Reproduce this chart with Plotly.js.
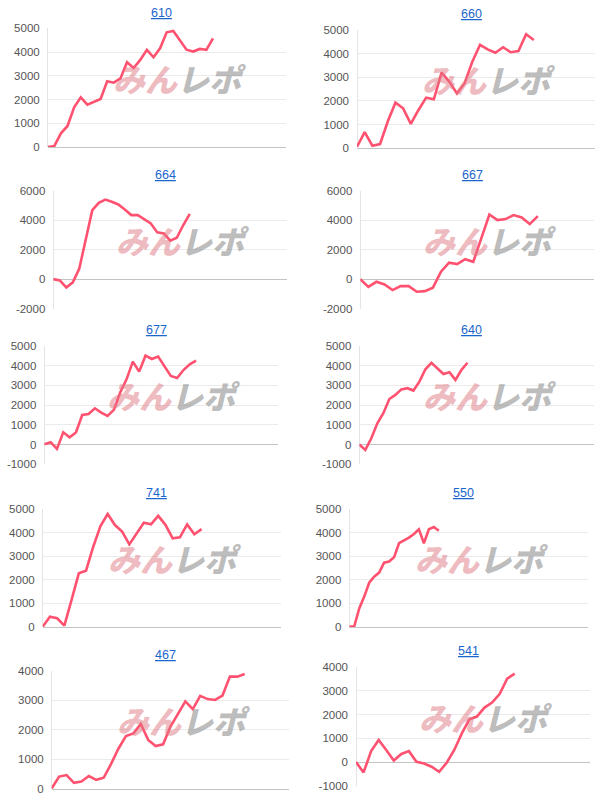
<!DOCTYPE html>
<html><head><meta charset="utf-8">
<script src="https://cdn.plot.ly/plotly-3.0.1.min.js"></script>
<style>html,body{margin:0;padding:0;background:#fff;}#chart{width:614px;height:800px;}</style>
</head><body><div id="chart"></div>
<script>
// ---- data ----
const titles = ['610','660','664','667','677','640','741','550','467','541'];
const s610 = [0,40,575,885,1670,2090,1780,1910,2020,2770,2710,2890,3570,3330,3670,4090,3780,4160,4830,4890,4480,4100,4020,4130,4090,4580];
const s660 = [70,680,110,180,1130,1930,1690,1030,1620,2140,2070,3200,2820,2320,2750,3660,4370,4180,4040,4270,4060,4110,4820,4580];
const s664 = [20,-70,-540,-200,740,2660,4680,5180,5400,5250,5070,4730,4350,4350,4060,3790,3180,3110,2620,2820,3680,4430];
const s667 = [20,-500,-160,-340,-720,-450,-450,-830,-790,-560,520,1130,1040,1370,1190,2770,4390,4010,4080,4350,4190,3740,4280];
const s677 = [20,120,-220,625,370,610,1500,1550,1840,1620,1450,1760,2640,3310,4210,3700,4510,4340,4460,3950,3480,3380,3780,4070,4260];
const s640 = [0,-270,320,1080,1590,2310,2520,2800,2860,2740,3190,3820,4150,3870,3580,3670,3280,3790,4150];
const s741 = [15,440,370,55,1150,2280,2390,3410,4290,4800,4330,4050,3510,3950,4430,4360,4720,4340,3770,3810,4360,3940,4160];
const s550 = [15,30,790,1290,1880,2140,2310,2730,2780,2960,3560,3670,3800,3950,4150,3560,4150,4250,4090];
const s467 = [20,420,470,210,250,440,310,380,850,1370,1790,1880,2200,1660,1450,1510,2110,2560,2960,2700,3150,3040,3010,3160,3800,3800,3890];
const s541 = [0,-440,460,930,510,60,340,460,10,-60,-200,-410,-30,510,1210,1800,1920,2300,2510,2870,3520,3730];
const series = [s610,s660,s664,s667,s677,s640,s741,s550,s467,s541];

const ticks5k = ['0','1000','2000','3000','4000','5000'];
const ticks6k = ['-2000','0','2000','4000','6000'];
const ticksM5k = ['-1000','0','1000','2000','3000','4000','5000'];
const ticks4k = ['0','1000','2000','3000','4000'];
const ticksM4k = ['-1000','0','1000','2000','3000','4000'];
const tickLabels = [ticks5k,ticks5k,ticks6k,ticks6k,ticksM5k,ticksM5k,ticks5k,ticks5k,ticks4k,ticksM4k];
const watermarkA = 'みん';
const watermarkB = 'レポ';

// ---- layout config (pixels) ----
const W = 614, H = 800;
const boxes = [
  [47.7,285.7,28.3,147],[357,595.3,30,148.3],
  [53.3,287.3,190.7,309],[360.3,594.3,190.7,309],
  [44.3,278.3,346,464.3],[359.3,593.7,346,464.3],
  [42.7,281,509.3,627],[349.3,588,509.3,627],
  [51.7,289.3,670.7,789],[356,590.3,667.3,785.7]
];
const xMax = [36,31,36,29,37,39,33,48,32,31];
const titleY = [13,14,175,175,330,330,493,493,655,651];

const data = [];
const layout = {
  width: W, height: H, margin:{l:0,r:0,t:0,b:0},
  paper_bgcolor:'#fff', plot_bgcolor:'#fff', showlegend:false,
  font:{family:'"Liberation Sans", Arial, sans-serif', size:11, color:'#555'},
  annotations: [], shapes: []
};

series.forEach((ys,i)=>{
  const k = i===0 ? '' : String(i+1);
  const b = boxes[i];
  const labels = tickLabels[i];
  const vals = labels.map(Number);
  data.push({
    type:'scatter', mode:'lines', x: ys.map((_,j)=>j), y: ys,
    xaxis:'x'+k, yaxis:'y'+k,
    line:{color:'#ff5270', width:2.6}, hoverinfo:'skip'
  });
  layout['xaxis'+k] = {
    domain:[b[0]/W, b[1]/W], range:[0, xMax[i]], anchor:'y'+k,
    showgrid:false, showticklabels:false, ticks:'',
    zeroline:true, zerolinecolor:'#e4e4e4', zerolinewidth:1, fixedrange:true
  };
  layout['yaxis'+k] = {
    domain:[1-b[3]/H, 1-b[2]/H], range:[vals[0], vals[vals.length-1]], anchor:'x'+k,
    tickmode:'array', tickvals: vals, ticktext: labels,
    showgrid:true, gridcolor:'#ebebeb', gridwidth:1,
    zeroline:true, zerolinecolor:'#c4c4c4', zerolinewidth:1,
    ticks:'', ticklabelstandoff:7, tickfont:{size:11.5, color:'#555'}, fixedrange:true
  };
  const cx = (b[0]+b[1])/2, cy = (b[2]+b[3])/2;
  layout.annotations.push({
    xref:'paper', yref:'paper', x:(cx-5)/W, y:1-titleY[i]/H,
    xanchor:'center', yanchor:'middle', showarrow:false,
    text:'<span style="text-decoration:underline">'+titles[i]+'</span>',
    font:{family:'"Liberation Sans", Arial, sans-serif', size:12.5, color:'#1a66cc'}
  });
  layout.annotations.push({
    xref:'paper', yref:'paper', x:(cx+13)/W, y:1-(cy-10)/H,
    xanchor:'center', yanchor:'middle', showarrow:false,
    text:'<span style="color:rgba(222,120,130,0.5);font-weight:900">'+watermarkA+'</span><span style="color:rgba(150,150,150,0.65);font-weight:900">'+watermarkB+'</span>',
    font:{family:'"Noto Sans CJK JP", sans-serif', size:32, weight:900, style:'italic'}
  });
});

Plotly.newPlot('chart', data, layout, {staticPlot:true, displayModeBar:false});
</script>
</body></html>
